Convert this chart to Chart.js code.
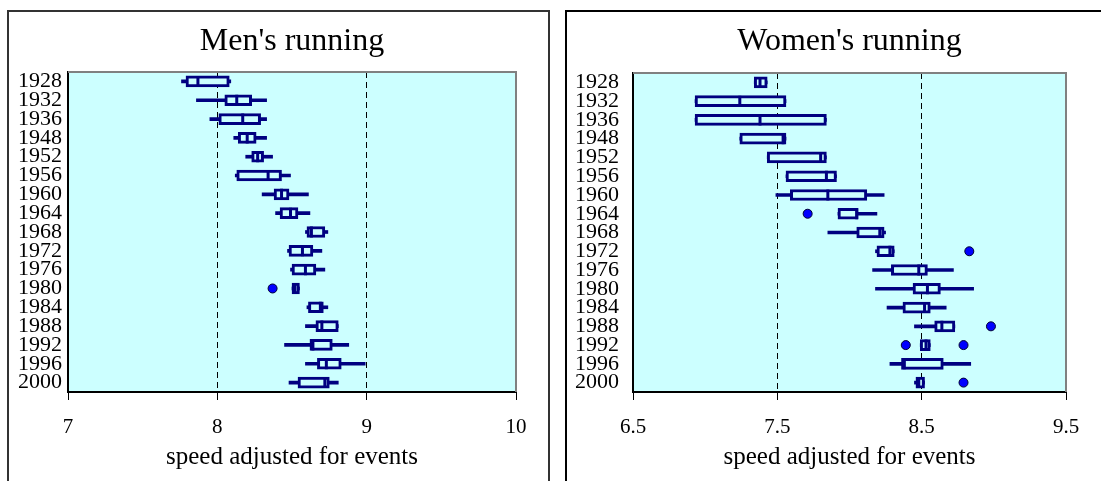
<!DOCTYPE html>
<html lang="en">
<head>
    <meta charset="UTF-8">
    <title>Olympic running speeds</title>
    <script src="https://cdn.jsdelivr.net/npm/chart.js"></script>
    <style>
        body { margin: 0; width: 1101px; height: 481px; overflow: hidden; background: #fff; }
        .panel { position: absolute; top: 10px; height: 520px; box-sizing: border-box; }
        #menPanel { left: 7px; width: 543px; border: 2px solid #333; }
        #womenPanel { left: 565px; width: 560px; border: 2px solid #000; }
        canvas { position: absolute; }
        #menChart { left: 8px; top: 10px; }
        #womenChart { left: 566px; top: 10px; }
    </style>
</head>
<body>
    <div class="panel" id="menPanel"></div>
    <div class="panel" id="womenPanel"></div>
    <canvas id="menChart" width="540" height="471"></canvas>
    <canvas id="womenChart" width="535" height="471"></canvas>

    <script>
        // Olympic years (rows)
        const years = ['1928', '1932', '1936', '1948', '1952', '1956', '1960', '1964', '1968',
                       '1972', '1976', '1980', '1984', '1988', '1992', '1996', '2000'];

        // Men: whisker low, lower quartile, median, upper quartile, whisker high
        const menLow  = [7.76, 7.86, 7.95, 8.11, 8.19, 8.12, 8.30, 8.39, 8.59, 8.47, 8.49, 8.50, 8.60, 8.59, 8.45, 8.59, 8.48];
        const menQ1   = [7.79, 8.05, 8.01, 8.14, 8.23, 8.13, 8.38, 8.42, 8.60, 8.48, 8.50, 8.50, 8.61, 8.66, 8.62, 8.67, 8.54];
        const menMed  = [7.87, 8.13, 8.17, 8.20, 8.27, 8.34, 8.43, 8.49, 8.63, 8.57, 8.59, 8.52, 8.69, 8.70, 8.64, 8.73, 8.72];
        const menQ3   = [8.08, 8.23, 8.29, 8.26, 8.31, 8.43, 8.48, 8.54, 8.72, 8.64, 8.66, 8.55, 8.71, 8.81, 8.77, 8.83, 8.75];
        const menHigh = [8.09, 8.33, 8.33, 8.33, 8.37, 8.49, 8.61, 8.62, 8.74, 8.70, 8.72, 8.55, 8.74, 8.81, 8.88, 8.99, 8.81];
        const menOutYears  = ['1980'];
        const menOutValues = [8.37];

        // Women
        const womenLow  = [7.34, 6.93, 6.93, 7.24, 7.43, 7.56, 7.49, 7.92, 7.85, 8.18, 8.16, 8.18, 8.26, 8.45, 8.49, 8.28, 8.45];
        const womenQ1   = [7.34, 6.93, 6.93, 7.24, 7.43, 7.56, 7.59, 7.92, 8.05, 8.19, 8.29, 8.44, 8.37, 8.59, 8.49, 8.36, 8.46];
        const womenMed  = [7.38, 7.24, 7.38, 7.54, 7.80, 7.84, 7.85, 8.05, 8.21, 8.28, 8.48, 8.54, 8.52, 8.64, 8.53, 8.38, 8.48];
        const womenQ3   = [7.43, 7.56, 7.84, 7.56, 7.84, 7.91, 8.12, 8.06, 8.24, 8.31, 8.54, 8.63, 8.56, 8.73, 8.56, 8.65, 8.52];
        const womenHigh = [7.43, 7.56, 7.84, 7.56, 7.84, 7.91, 8.24, 8.19, 8.25, 8.31, 8.72, 8.86, 8.67, 8.73, 8.56, 8.84, 8.52];
        const womenOutYears  = ['1964', '1972', '1988', '1992', '1992', '2000'];
        const womenOutValues = [7.71, 8.83, 8.98, 8.39, 8.79, 8.79];

        const menTicks = [7, 8, 9, 10];
        const womenTicks = [6.5, 7.5, 8.5, 9.5];

        const serif = 'Liberation Serif, Times New Roman, serif';
        const navy = '#000080';
        const plotBg = '#CCFFFF';

        // cyan plot background + grey top/right frame
        const plotFrame = {
            id: 'plotFrame',
            beforeDraw(chart) {
                const { ctx, chartArea: a } = chart;
                ctx.save();
                ctx.fillStyle = plotBg;
                ctx.fillRect(a.left, a.top, a.right - a.left, a.bottom - a.top);
                ctx.restore();
            },
            beforeDatasetsDraw(chart) {
                const { ctx, chartArea: a } = chart;
                ctx.save();
                ctx.strokeStyle = '#808080';
                ctx.lineWidth = 2;
                ctx.beginPath();
                ctx.moveTo(a.left, a.top);
                ctx.lineTo(a.right, a.top);
                ctx.lineTo(a.right, a.bottom);
                ctx.stroke();
                ctx.restore();
            }
        };

        function makeBoxChart(id, title, low, q1, med, q3, high, outYears, outValues, ticks, opts) {
            const xMin = ticks[0];
            const xMax = ticks[ticks.length - 1];
            return new Chart(document.getElementById(id).getContext('2d'), {
                type: 'bar',
                data: {
                    labels: years,
                    datasets: [
                        {
                            type: 'scatter',
                            label: 'outliers',
                            data: outYears.map((y, i) => ({ x: outValues[i], y: y })),
                            pointStyle: 'circle',
                            pointRadius: 4.5,
                            pointBackgroundColor: '#0000FF',
                            pointBorderColor: '#000033',
                            pointBorderWidth: 1,
                            order: 1
                        },
                        {
                            type: 'scatter',
                            label: 'median',
                            data: years.map((y, i) => ({ x: med[i], y: y })),
                            pointStyle: 'line',
                            pointRotation: 90,
                            pointRadius: 5.5,
                            pointBorderColor: navy,
                            pointBorderWidth: 3,
                            order: 2
                        },
                        {
                            type: 'bar',
                            label: 'box',
                            data: years.map((y, i) => [q1[i], q3[i]]),
                            backgroundColor: plotBg,
                            borderColor: navy,
                            borderWidth: 3,
                            borderSkipped: false,
                            barThickness: 11,
                            grouped: false,
                            order: 3
                        },
                        {
                            type: 'bar',
                            label: 'whisker',
                            data: years.map((y, i) => [low[i], high[i]]),
                            backgroundColor: navy,
                            borderWidth: 0,
                            barThickness: 3,
                            grouped: false,
                            order: 4
                        }
                    ]
                },
                options: {
                    responsive: false,
                    animation: false,
                    indexAxis: 'y',
                    layout: { padding: { right: opts.padRight } },
                    plugins: {
                        legend: { display: false },
                        tooltip: { enabled: false },
                        title: {
                            display: true,
                            text: title,
                            fullSize: false,
                            color: '#000',
                            font: { family: serif, size: 32, weight: 'normal' },
                            padding: { top: 12, bottom: opts.titleBottom }
                        }
                    },
                    scales: {
                        x: {
                            type: 'linear',
                            min: xMin,
                            max: xMax,
                            afterBuildTicks: s => { s.ticks = ticks.map(v => ({ value: v })); },
                            ticks: {
                                color: '#000',
                                font: { family: serif, size: 21 },
                                padding: 15
                            },
                            grid: {
                                color: c => (c.tick && (c.tick.value === xMin || c.tick.value === xMax)) ? 'rgba(0,0,0,0)' : '#000',
                                lineWidth: 1,
                                tickColor: '#000',
                                tickLength: 8,
                                tickWidth: 1
                            },
                            border: { color: '#000', width: 2, dash: [6, 4] },
                            title: {
                                display: true,
                                text: 'speed adjusted for events',
                                color: '#000',
                                font: { family: serif, size: 25 },
                                padding: { top: 0, bottom: 9 }
                            },
                            afterFit: s => { s.height = 89; }
                        },
                        y: {
                            type: 'category',
                            offset: true,
                            ticks: {
                                autoSkip: false,
                                color: '#000',
                                font: { family: serif, size: 22 },
                                padding: opts.labelPad
                            },
                            grid: { display: false, drawTicks: false },
                            border: { display: true, color: '#000', width: 2 },
                            afterFit: s => { s.width = opts.yWidth; }
                        }
                    }
                },
                plugins: [plotFrame]
            });
        }

        makeBoxChart('menChart', "Men's running", menLow, menQ1, menMed, menQ3, menHigh,
            menOutYears, menOutValues, menTicks, { padRight: 32, titleBottom: 11.6, labelPad: 6, yWidth: 60 });

        makeBoxChart('womenChart', "Women's running", womenLow, womenQ1, womenMed, womenQ3, womenHigh,
            womenOutYears, womenOutValues, womenTicks, { padRight: 35, titleBottom: 12.6, labelPad: 14, yWidth: 67 });
    </script>
</body>
</html>
